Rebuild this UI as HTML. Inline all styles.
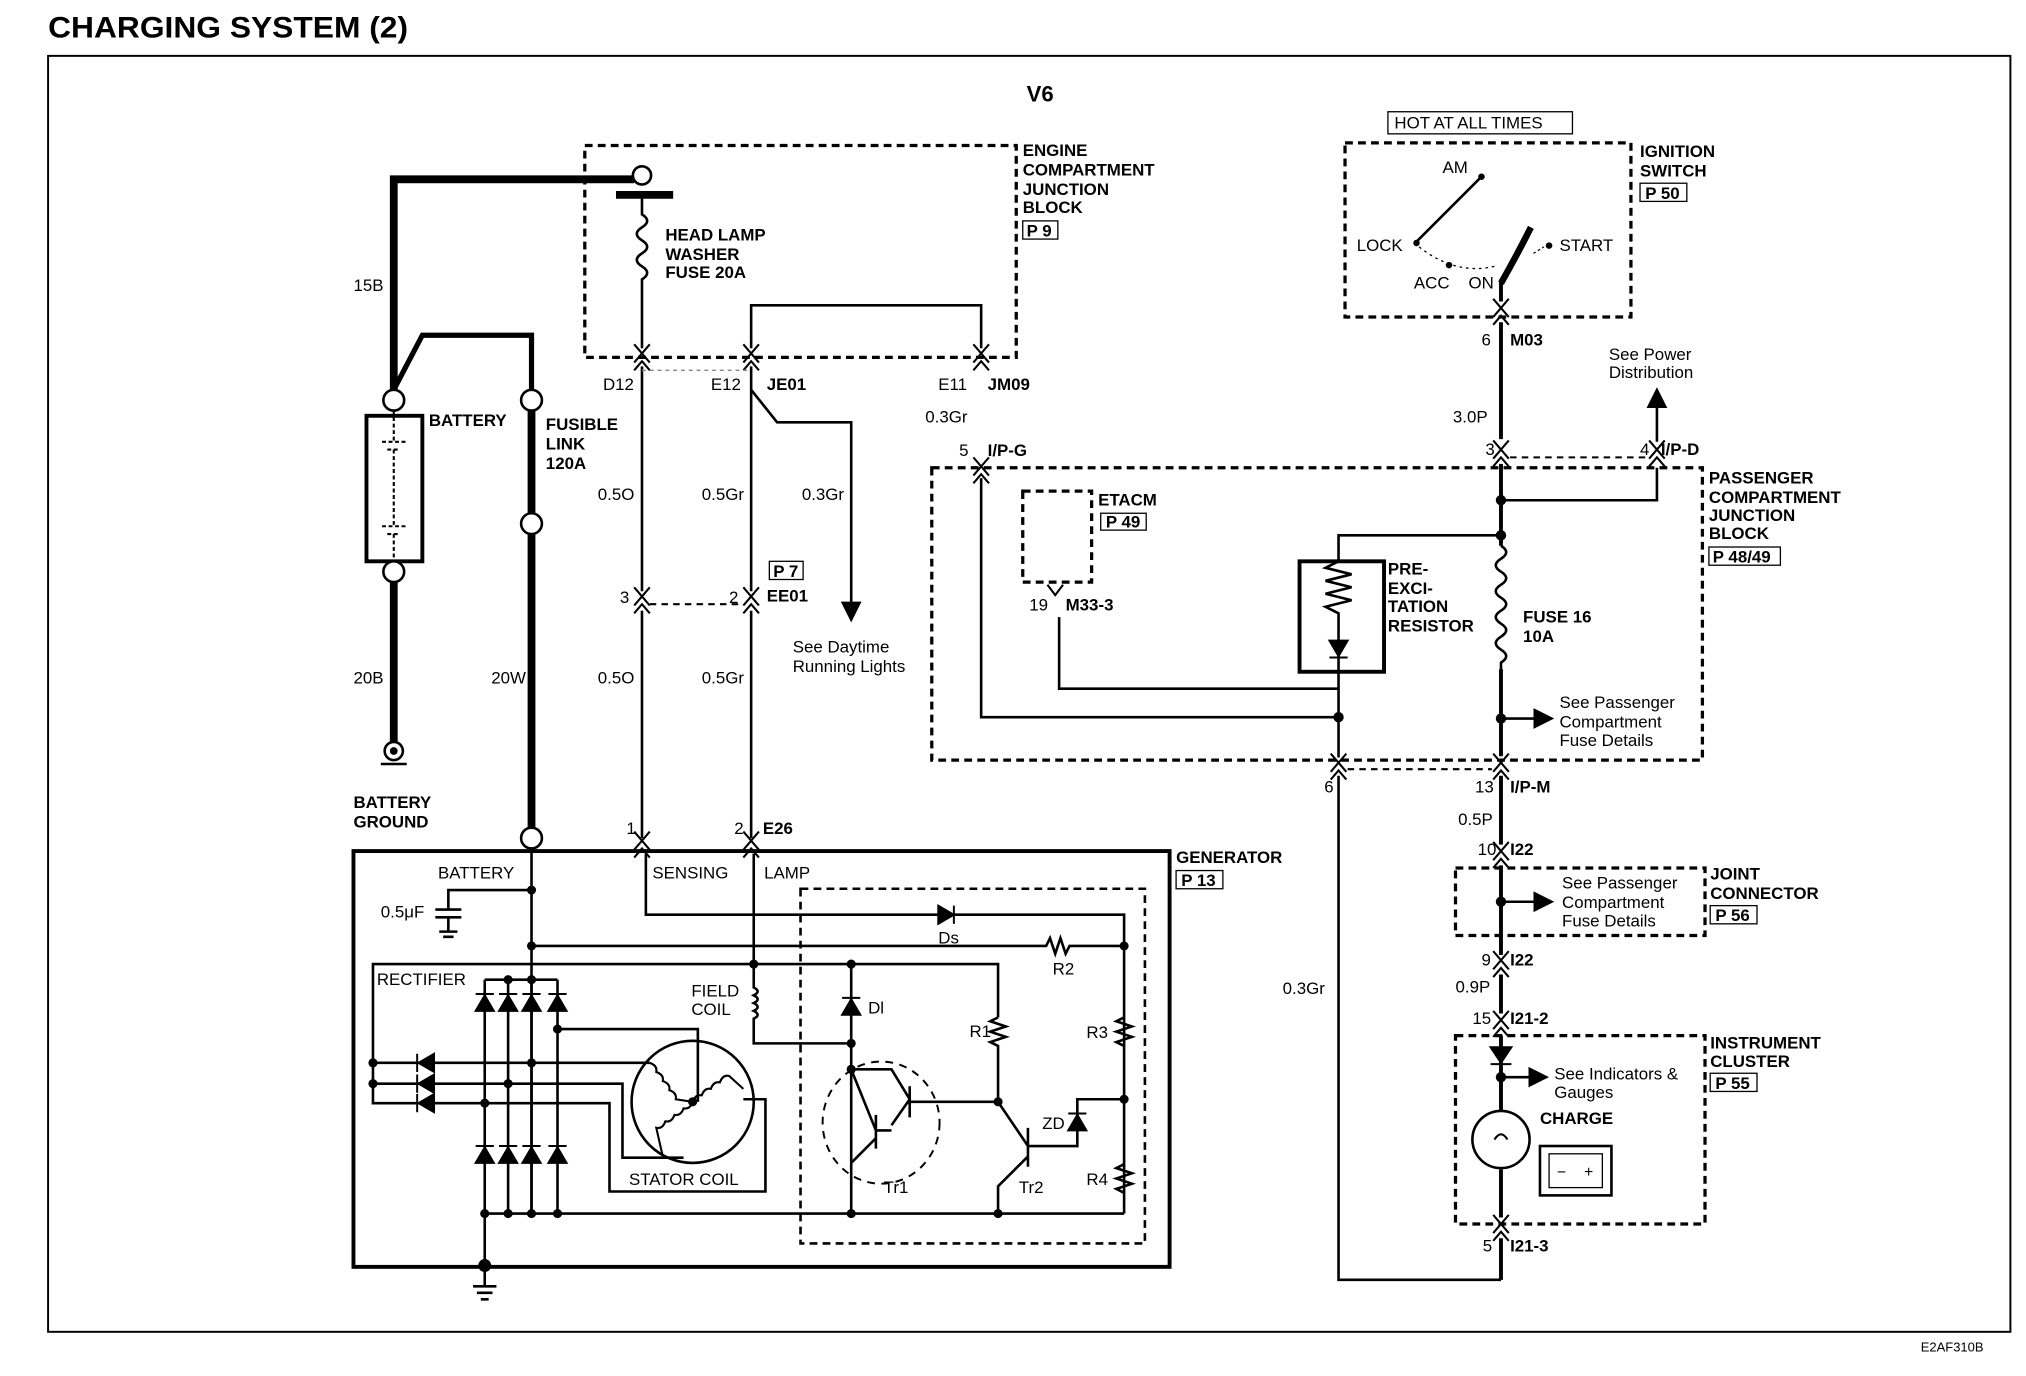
<!DOCTYPE html>
<html><head><meta charset="utf-8"><style>
html,body{margin:0;padding:0;background:#fff}
svg{display:block}
text{font-family:"Liberation Sans",Arial,sans-serif;font-size:13px;fill:#000}
.b{font-weight:bold}
.w{stroke:#000;stroke-width:2;fill:none}
.t{stroke:#000;stroke-width:6;fill:none}
.d{stroke:#000;stroke-width:2.5;fill:none;stroke-dasharray:6 4}
.c{stroke:#000;stroke-width:1.6;fill:none}
</style></head><body>
<svg width="2026" height="1376" viewBox="0 0 1559 1059" preserveAspectRatio="none" xmlns="http://www.w3.org/2000/svg">
<defs>
<g id="cn"><path class="c" d="M-6 -10 L0 -3 L6 -10 M-6 4 L0 -3 L6 4 M-6 10 L0 3 L6 10"/></g>
<marker id="ar" markerWidth="8" markerHeight="8" refX="6" refY="4" orient="auto"><path d="M0 0 L8 4 L0 8 Z" fill="#000"/></marker>
</defs>
<text x="37" y="29" class="b" style="font-size:23px" textLength="277" lengthAdjust="spacingAndGlyphs">CHARGING SYSTEM (2)</text>
<rect x="37" y="43" width="1510" height="982" fill="none" stroke="#000" stroke-width="1.5"/>
<text x="1478" y="1040" style="font-size:10px">E2AF310B</text>
<text x="790" y="78" class="b" style="font-size:17px">V6</text>

<!-- Engine compartment junction block -->
<rect x="450" y="112" width="332" height="163" class="d"/>
<text x="787" y="120" class="b">ENGINE</text><text x="787" y="135" class="b">COMPARTMENT</text>
<text x="787" y="150" class="b">JUNCTION</text><text x="787" y="164" class="b">BLOCK</text>
<rect x="787" y="170" width="27" height="14" fill="none" stroke="#000"/><text x="790" y="182" class="b">P 9</text>
<path class="t" d="M303 308 V138 H488"/>
<circle cx="494" cy="135" r="7" fill="#fff" stroke="#000" stroke-width="2"/>
<line x1="474" y1="150" x2="518" y2="150" stroke="#000" stroke-width="6"/>
<path class="w" d="M494 150 V165 q8 5 0 10 q-8 5 0 10 q8 5 0 10 q-8 5 0 10 q8 5 0 10 V268"/>
<text x="512" y="185" class="b">HEAD LAMP</text><text x="512" y="200" class="b">WASHER</text><text x="512" y="214" class="b">FUSE 20A</text>
<use href="#cn" x="494" y="275"/><use href="#cn" x="578" y="275"/><use href="#cn" x="755" y="275"/>
<path class="w" d="M578 268 V235 H755 V268"/>
<path class="w" d="M494 282 V455 M494 470 V645"/>
<path class="w" d="M578 282 V455 M578 470 V645"/>
<path class="w" d="M578 300 L598 325 H655 V475" marker-end="url(#ar)"/>
<line x1="494" y1="285" x2="578" y2="285" stroke="#888" stroke-dasharray="3 3"/>
<text x="464" y="300">D12</text><text x="547" y="300">E12</text><text x="590" y="300" class="b">JE01</text>
<text x="722" y="300">E11</text><text x="760" y="300" class="b">JM09</text>
<text x="712" y="325">0.3Gr</text>
<text x="460" y="385">0.5O</text><text x="540" y="385">0.5Gr</text><text x="617" y="385">0.3Gr</text>
<use href="#cn" x="494" y="462"/><use href="#cn" x="578" y="462"/>
<line x1="500" y1="465" x2="572" y2="465" class="c" stroke-dasharray="5 4"/>
<text x="477" y="464">3</text><text x="561" y="464">2</text><text x="590" y="463" class="b">EE01</text>
<rect x="592" y="432" width="26" height="14" fill="none" stroke="#000"/><text x="595" y="444" class="b">P 7</text>
<text x="610" y="502">See Daytime</text><text x="610" y="517">Running Lights</text>
<text x="460" y="526">0.5O</text><text x="540" y="526">0.5Gr</text>

<!-- Battery -->
<text x="272" y="224">15B</text>
<circle cx="303" cy="308" r="8" fill="#fff" stroke="#000" stroke-width="2"/>
<circle cx="409" cy="308" r="8" fill="#fff" stroke="#000" stroke-width="2"/>
<path class="t" style="stroke-width:4" d="M303 300 L325 258 H409 V300"/>
<rect x="282" y="320" width="43" height="112" fill="none" stroke="#000" stroke-width="3"/>
<path class="c" d="M303 316 V340 M294 340 H312 M298 346 H308 M303 346 V405 M294 405 H312 M298 411 H308 M303 411 V432" stroke-dasharray="3 2"/>
<circle cx="303" cy="440" r="8" fill="#fff" stroke="#000" stroke-width="2"/>
<path class="t" d="M303 448 V572"/>
<circle cx="303" cy="578" r="7" fill="#fff" stroke="#000" stroke-width="2"/><circle cx="303" cy="578" r="3" fill="#000"/>
<line x1="293" y1="588" x2="313" y2="588" stroke="#000" stroke-width="2"/>
<text x="272" y="526">20B</text>
<text x="272" y="622" class="b">BATTERY</text><text x="272" y="637" class="b">GROUND</text>
<text x="330" y="328" class="b">BATTERY</text>
<text x="420" y="331" class="b">FUSIBLE</text><text x="420" y="346" class="b">LINK</text><text x="420" y="361" class="b">120A</text>
<path class="t" d="M409 316 V395 M409 411 V637"/>
<circle cx="409" cy="403" r="8" fill="#fff" stroke="#000" stroke-width="2"/>
<circle cx="409" cy="645" r="8" fill="#fff" stroke="#000" stroke-width="2"/>
<text x="378" y="526">20W</text>

<!-- Ignition switch -->
<rect x="1068" y="86" width="142" height="17" fill="none" stroke="#000"/><text x="1073" y="99">HOT AT ALL TIMES</text>
<rect x="1035" y="110" width="220" height="134" class="d"/>
<text x="1262" y="121" class="b">IGNITION</text><text x="1262" y="136" class="b">SWITCH</text>
<rect x="1262" y="141" width="36" height="14" fill="none" stroke="#000"/><text x="1266" y="153" class="b">P 50</text>
<text x="1110" y="133">AM</text><circle cx="1140" cy="136" r="2.5" fill="#000"/>
<path class="w" d="M1140 136 L1090 186"/><circle cx="1090" cy="187" r="2.5" fill="#000"/>
<text x="1044" y="193">LOCK</text>
<path d="M1092 190 Q1120 212 1150 205" fill="none" stroke="#000" stroke-dasharray="2 3"/>
<circle cx="1115" cy="204" r="2.5" fill="#000"/><circle cx="1192" cy="189" r="2.5" fill="#000"/>
<path d="M1155 218 Q1168 195 1178 175" fill="none" stroke="#000" stroke-width="5"/>
<path d="M1180 195 L1188 190" stroke="#000" stroke-dasharray="2 2"/>
<text x="1088" y="222">ACC</text><text x="1130" y="222">ON</text><text x="1200" y="193">START</text>
<path class="t" style="stroke-width:3" d="M1155 215 V232 M1155 248 V338"/>
<use href="#cn" x="1155" y="240"/>
<text x="1140" y="266">6</text><text x="1162" y="266" class="b">M03</text>
<text x="1118" y="325">3.0P</text>
<use href="#cn" x="1155" y="349"/><use href="#cn" x="1275" y="349"/>
<text x="1143" y="350">3</text><text x="1262" y="350">4</text><text x="1278" y="350" class="b">I/P-D</text>
<path class="w" d="M1275 340 V302" marker-end="url(#ar)"/>
<text x="1238" y="277">See Power</text><text x="1238" y="291">Distribution</text>
<line x1="1162" y1="352" x2="1268" y2="352" class="c" stroke-dasharray="5 4"/>

<!-- Passenger compartment JB -->
<rect x="717" y="360" width="593" height="225" class="d"/>
<text x="1315" y="372" class="b">PASSENGER</text><text x="1315" y="387" class="b">COMPARTMENT</text>
<text x="1315" y="401" class="b">JUNCTION</text><text x="1315" y="415" class="b">BLOCK</text>
<rect x="1315" y="421" width="55" height="14" fill="none" stroke="#000"/><text x="1318" y="433" class="b">P 48/49</text>
<use href="#cn" x="755" y="362"/>
<text x="738" y="351">5</text><text x="760" y="351" class="b">I/P-G</text>
<path class="w" d="M755 368 V552 H1030"/>
<path class="t" style="stroke-width:3" d="M1155 357 V420 M1155 515 V582"/>
<path class="w" d="M1155 385 H1275 V360"/>
<circle cx="1155" cy="385" r="4" fill="#000"/><circle cx="1155" cy="412" r="4" fill="#000"/>
<path class="w" d="M1155 412 H1030 V432"/>
<rect x="1000" y="432" width="65" height="85" fill="none" stroke="#000" stroke-width="3"/>
<path class="w" d="M1030 432 l-10 5 l20 5 l-20 5 l20 5 l-20 5 l20 5 l-20 5 l10 5 V517"/>
<path d="M1023 493 H1037 L1030 505 Z M1023 506 H1037" fill="#000" stroke="#000" stroke-width="1.5"/>
<text x="1068" y="442" class="b">PRE-</text><text x="1068" y="457" class="b">EXCI-</text><text x="1068" y="471" class="b">TATION</text><text x="1068" y="486" class="b">RESISTOR</text>
<path class="w" d="M1030 517 V583"/><circle cx="1030" cy="552" r="4" fill="#000"/>
<path class="w" d="M1155 420 q8 5 0 10 q-8 5 0 10 q8 5 0 10 q-8 5 0 10 q8 5 0 10 q-8 5 0 10 q8 5 0 10 q-8 5 0 10 q8 5 0 10 V515"/>
<text x="1172" y="479" class="b">FUSE 16</text><text x="1172" y="494" class="b">10A</text>
<circle cx="1155" cy="553" r="4" fill="#000"/>
<path class="w" d="M1155 553 H1192" marker-end="url(#ar)"/>
<text x="1200" y="545">See Passenger</text><text x="1200" y="560">Compartment</text><text x="1200" y="574">Fuse Details</text>
<rect x="787" y="378" width="53" height="70" class="d"/>
<text x="845" y="389" class="b">ETACM</text>
<rect x="847" y="395" width="35" height="13" fill="none" stroke="#000"/><text x="851" y="406" class="b">P 49</text>
<path class="c" d="M806 450 L812 458 L818 450"/>
<text x="792" y="470">19</text><text x="820" y="470" class="b">M33-3</text>
<path class="w" d="M815 475 V530 H1030"/>
<use href="#cn" x="1030" y="590"/><use href="#cn" x="1155" y="590"/>
<line x1="1037" y1="592" x2="1148" y2="592" class="c" stroke-dasharray="5 4"/>
<text x="1019" y="610">6</text><text x="1135" y="610">13</text><text x="1162" y="610" class="b">I/P-M</text>
<path class="w" d="M1030 597 V985 H1155"/>
<text x="987" y="765">0.3Gr</text>
<path class="t" style="stroke-width:3" d="M1155 597 V650 M1155 666 V735 M1155 750 V780 M1155 797 V855 M1155 900 V937 M1155 953 V985"/>
<text x="1122" y="635">0.5P</text>
<use href="#cn" x="1155" y="658"/><text x="1137" y="658">10</text><text x="1162" y="658" class="b">I22</text>
<rect x="1120" y="668" width="192" height="52" class="d"/>
<circle cx="1155" cy="694" r="4" fill="#000"/>
<path class="w" d="M1155 694 H1192" marker-end="url(#ar)"/>
<text x="1202" y="684">See Passenger</text><text x="1202" y="699">Compartment</text><text x="1202" y="713">Fuse Details</text>
<text x="1316" y="677" class="b">JOINT</text><text x="1316" y="692" class="b">CONNECTOR</text>
<rect x="1316" y="697" width="36" height="14" fill="none" stroke="#000"/><text x="1320" y="709" class="b">P 56</text>
<use href="#cn" x="1155" y="742"/><text x="1140" y="743">9</text><text x="1162" y="743" class="b">I22</text>
<text x="1120" y="764">0.9P</text>
<use href="#cn" x="1155" y="788"/><text x="1133" y="788">15</text><text x="1162" y="788" class="b">I21-2</text>
<rect x="1120" y="797" width="192" height="145" class="d"/>
<text x="1316" y="807" class="b">INSTRUMENT</text><text x="1316" y="821" class="b">CLUSTER</text>
<rect x="1316" y="826" width="36" height="14" fill="none" stroke="#000"/><text x="1320" y="838" class="b">P 55</text>
<path d="M1147 806 H1163 L1155 818 Z M1147 819 H1163" fill="#000" stroke="#000" stroke-width="1.5"/>
<circle cx="1155" cy="829" r="4" fill="#000"/>
<path class="w" d="M1155 829 H1188" marker-end="url(#ar)"/>
<text x="1196" y="831">See Indicators &amp;</text><text x="1196" y="845">Gauges</text>
<text x="1185" y="865" class="b">CHARGE</text>
<circle cx="1155" cy="877" r="22" fill="#fff" stroke="#000" stroke-width="2"/>
<path class="c" d="M1150 877 q5 -8 10 0"/>
<rect x="1185" y="882" width="55" height="38" fill="none" stroke="#000" stroke-width="2"/>
<rect x="1192" y="888" width="41" height="26" fill="none" stroke="#000" stroke-width="1"/>
<text x="1198" y="906" style="font-size:12px">−</text><text x="1219" y="906" style="font-size:12px">+</text>
<use href="#cn" x="1155" y="945"/><text x="1141" y="963">5</text><text x="1162" y="963" class="b">I21-3</text>

<!-- Generator -->
<rect x="272" y="655" width="628" height="320" fill="none" stroke="#000" stroke-width="3"/>
<text x="905" y="664" class="b">GENERATOR</text>
<rect x="905" y="670" width="36" height="14" fill="none" stroke="#000"/><text x="909" y="682" class="b">P 13</text>
<use href="#cn" x="494" y="650"/><use href="#cn" x="578" y="650"/>
<text x="482" y="642">1</text><text x="565" y="642">2</text><text x="587" y="642" class="b">E26</text>
<text x="337" y="676">BATTERY</text><text x="502" y="676">SENSING</text><text x="588" y="676">LAMP</text>
<rect x="616" y="684" width="265" height="273" class="d" style="stroke-width:2"/>
<path class="w" d="M409 653 V934"/>
<path class="w" d="M409 685 H345 V700 M335 700 H355 M335 706 H355 M345 706 V717 M338 717 H352 M341 721 H349"/>
<text x="293" y="706">0.5μF</text>
<path class="w" d="M497 657 V704 H865 V934"/>
<path d="M722 697 V711 L734 704 Z M734 697 V711" fill="#000" stroke="#000" stroke-width="1.5"/>
<text x="722" y="726">Ds</text>
<path class="w" d="M409 728 H805 l3 -6 l4 12 l4 -12 l4 12 l3 -6 H865"/>
<text x="810" y="750">R2</text>
<circle cx="409" cy="685" r="3.5" fill="#000"/><circle cx="409" cy="728" r="3.5" fill="#000"/><circle cx="865" cy="728" r="3.5" fill="#000"/>
<path class="w" d="M580 657 V742"/>
<path class="w" d="M287 850 V742 H768 V783"/>
<text x="290" y="758">RECTIFIER</text>
<circle cx="580" cy="742" r="3.5" fill="#000"/><circle cx="655" cy="742" r="3.5" fill="#000"/>
<path class="w" d="M580 742 V760 q6 3 0 6 q6 3 0 6 q6 3 0 6 q6 3 0 6 V803 H655"/>
<text x="532" y="767">FIELD</text><text x="532" y="781">COIL</text>
<path class="w" d="M655 742 V934"/>
<path d="M648 781 H662 L655 769 Z M648 768 H662" fill="#000" stroke="#000" stroke-width="1.5"/>
<text x="668" y="780">Dl</text>
<circle cx="655" cy="803" r="3.5" fill="#000"/><circle cx="655" cy="823" r="3.5" fill="#000"/>
<path class="w" d="M373 754 H429 M373 754 V990 M391 754 V934 M409 754 V934 M429 754 V934 M373 934 H865"/>
<g fill="#000" stroke="#000" stroke-width="1.5">
<path d="M366 778 H380 L373 766 Z M366 765 H380"/><path d="M384 778 H398 L391 766 Z M384 765 H398"/>
<path d="M402 778 H416 L409 766 Z M402 765 H416"/><path d="M422 778 H436 L429 766 Z M422 765 H436"/>
<path d="M366 895 H380 L373 883 Z M366 882 H380"/><path d="M384 895 H398 L391 883 Z M384 882 H398"/>
<path d="M402 895 H416 L409 883 Z M402 882 H416"/><path d="M422 895 H436 L429 883 Z M422 882 H436"/>
<path d="M334 811 V825 L322 818 Z M321 811 V825"/><path d="M334 827 V841 L322 834 Z M321 827 V841"/>
<path d="M334 842 V856 L322 849 Z M321 842 V856"/>
</g>
<path class="w" d="M287 818 H409 M287 834 H391 M287 849 H373"/>
<g fill="#000"><circle cx="391" cy="754" r="3.5"/><circle cx="409" cy="754" r="3.5"/><circle cx="287" cy="818" r="3.5"/><circle cx="287" cy="834" r="3.5"/>
<circle cx="409" cy="818" r="3.5"/><circle cx="391" cy="834" r="3.5"/><circle cx="373" cy="849" r="3.5"/><circle cx="429" cy="792" r="3.5"/>
<circle cx="373" cy="934" r="3.5"/><circle cx="391" cy="934" r="3.5"/><circle cx="409" cy="934" r="3.5"/><circle cx="429" cy="934" r="3.5"/>
<circle cx="655" cy="934" r="3.5"/><circle cx="768" cy="934" r="3.5"/><circle cx="768" cy="848" r="3.5"/><circle cx="865" cy="846" r="3.5"/>
<circle cx="373" cy="974" r="5"/><circle cx="533" cy="848" r="3.5"/></g>
<path class="w" d="M409 818 H500 M391 834 H479 V891 H526 M373 849 H469 V917 H589 V846 H572 M429 792 H537 V848"/>
<circle cx="533" cy="848" r="47" fill="none" stroke="#000" stroke-width="2"/>
<path class="c" d="M500 818 q6 2 5 7 q6 2 5 7 q6 2 5 7 q6 2 5 7 L533 848 q-2 6 -7 5 q-2 6 -7 5 q-2 6 -7 5 q-2 6 -7 5 L510 890 M533 848 q2 -6 7 -5 q2 -6 7 -5 q2 -6 7 -5 q2 -6 7 -5 L572 838"/>
<text x="484" y="912">STATOR COIL</text>
<path class="w" d="M364 990 H382 M367 995 H379 M370 1000 H376"/>
<ellipse cx="678" cy="864" rx="45" ry="47" fill="none" stroke="#000" stroke-width="1.5" stroke-dasharray="6 5"/>
<path class="w" d="M655 823 H686 L700 846 L686 866 M700 836 V860 M700 848 H768 M655 823 L674 870 M674 858 V884 M674 870 H686 M674 876 L655 895"/>
<text x="680" y="918">Tr1</text>
<path class="w" d="M768 783 l-6 3 l12 4 l-12 4 l12 4 l-12 4 l6 3 V848 L791 882 M791 868 V898 M791 890 L768 913 V934 M791 882 H829 V846 H865"/>
<text x="746" y="798">R1</text><text x="784" y="918">Tr2</text>
<path d="M822 870 H836 L829 858 Z M822 857 H836" fill="#000" stroke="#000" stroke-width="1.5"/>
<text x="802" y="869">ZD</text>
<path class="w" d="M865 783 l-6 3 l12 4 l-12 4 l12 4 l-12 4 l6 3 M865 896 l-6 3 l12 4 l-12 4 l12 4 l-12 4 l6 3"/>
<text x="836" y="799">R3</text><text x="836" y="912">R4</text>
</svg>
</body></html>
